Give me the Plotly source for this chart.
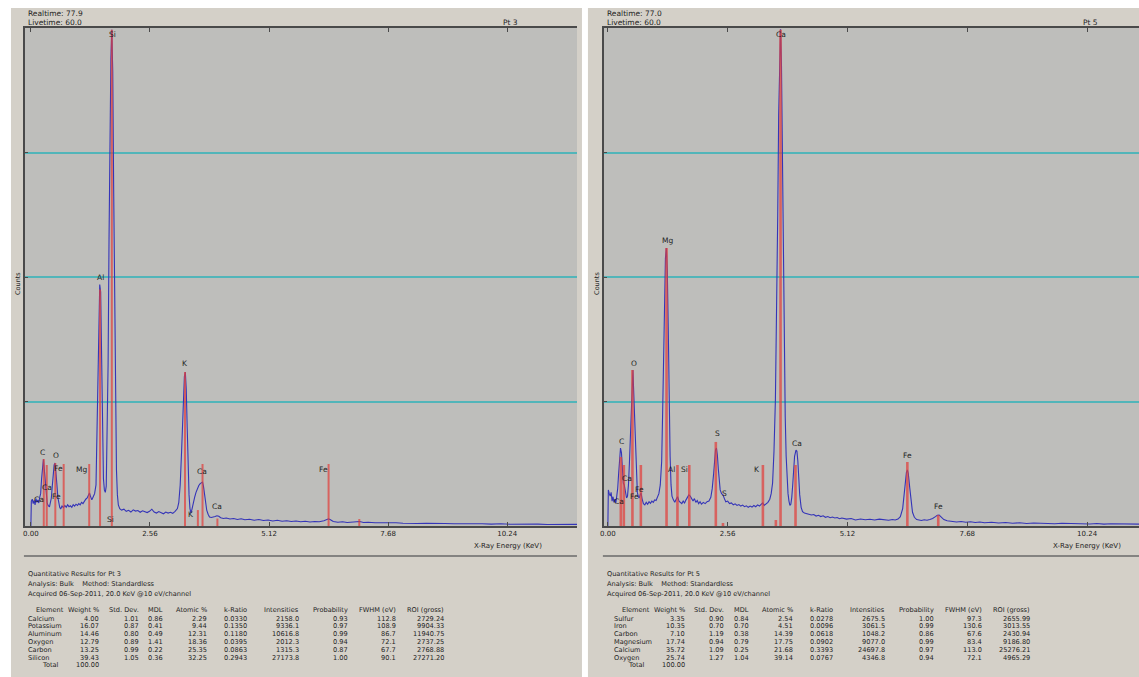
import plotly.graph_objects as go

W, H = 1139, 677

# ------------------------------------------------------------------ data
tick_kev = [0.0, 2.56, 5.12, 7.68, 10.24]
tick_labels = ["0.00", "2.56", "5.12", "7.68", "10.24"]

# Pt 3 spectrum (keV, counts)
pt3_energy = [0.00, 0.01, 0.03, 0.05, 0.07, 0.09, 0.11, 0.13, 0.15, 0.17, 0.19, 0.21, 0.23, 0.25, 0.27,
              0.29, 0.31, 0.33, 0.35, 0.37, 0.40, 0.42, 0.44, 0.46, 0.48, 0.50, 0.52, 0.54, 0.56, 0.58,
              0.60, 0.62, 0.64, 0.67, 0.70, 0.73, 0.76, 0.79, 0.82, 0.85, 0.88, 0.91, 0.94, 0.97, 1.00,
              1.03, 1.06, 1.09, 1.12, 1.15, 1.18, 1.21, 1.24, 1.26, 1.28, 1.31, 1.34, 1.37, 1.40, 1.42,
              1.44, 1.46, 1.48, 1.50, 1.52, 1.54, 1.56, 1.58, 1.60, 1.62, 1.64, 1.66, 1.68, 1.70, 1.72,
              1.74, 1.76, 1.78, 1.80, 1.82, 1.84, 1.86, 1.88, 1.91, 1.95, 2.00, 2.05, 2.10, 2.15, 2.20,
              2.25, 2.30, 2.35, 2.40, 2.45, 2.50, 2.55, 2.60, 2.65, 2.70, 2.75, 2.80, 2.85, 2.90, 2.95,
              3.00, 3.05, 3.10, 3.15, 3.18, 3.21, 3.24, 3.27, 3.30, 3.32, 3.34, 3.36, 3.38, 3.40, 3.42,
              3.44, 3.46, 3.49, 3.52, 3.55, 3.58, 3.61, 3.64, 3.67, 3.69, 3.71, 3.73, 3.75, 3.78, 3.81,
              3.84, 3.88, 3.92, 3.96, 4.00, 4.04, 4.08, 4.14, 4.20, 4.28, 4.36, 4.44, 4.52, 4.60, 4.70,
              4.80, 4.90, 5.00, 5.10, 5.20, 5.30, 5.40, 5.50, 5.60, 5.70, 5.80, 5.90, 6.00, 6.10, 6.20,
              6.30, 6.36, 6.40, 6.44, 6.50, 6.60, 6.70, 6.80, 6.90, 7.00, 7.07, 7.15, 7.25, 7.40, 7.55,
              7.70, 7.85, 8.00, 8.15, 8.30, 8.50, 8.70, 8.90, 9.10, 9.30, 9.50, 9.70, 9.90, 10.10, 10.30,
              10.50, 10.70, 10.90, 11.10, 11.30, 11.50, 11.74]
pt3_counts = [0, 200, 215, 180, 205, 170, 220, 190, 210, 185, 230, 260, 380, 510, 535,
              450, 345, 240, 185, 165, 153, 190, 225, 320, 425, 490, 506, 440, 330, 230,
              175, 150, 137, 160, 148, 165, 150, 170, 155, 162, 150, 172, 160, 175, 165,
              180, 170, 190, 180, 200, 215, 225, 255, 265, 240, 210, 235, 260, 330, 700,
              1300, 1650, 1940, 1880, 1350, 700, 380, 290, 270, 320, 700, 1300, 2300, 3200, 3750,
              3985, 3650, 2700, 1700, 900, 450, 250, 170, 140, 128, 135, 118, 126, 112, 130,
              120, 124, 110, 122, 115, 108, 118, 135, 112, 104, 116, 108, 98, 112, 104,
              110, 102, 118, 140, 190, 330, 600, 950, 1200, 1237, 1100, 800, 480, 250, 140,
              105, 130, 190, 230, 270, 300, 325, 340, 350, 353, 320, 250, 190, 128, 95,
              72, 68, 70, 76, 82, 78, 66, 60, 64, 56, 60, 52, 58, 50, 54,
              46, 52, 44, 48, 40, 46, 38, 42, 36, 40, 34, 38, 32, 36, 34,
              42, 52, 58, 50, 36, 30, 34, 28, 32, 30, 36, 28, 30, 26, 28,
              24, 26, 22, 24, 20, 22, 18, 20, 18, 20, 16, 18, 15, 18, 14,
              16, 14, 15, 12, 14, 12, 13]

# Pt 5 spectrum (keV, counts)
pt5_energy = [0.00, 0.01, 0.03, 0.05, 0.07, 0.09, 0.11, 0.13, 0.15, 0.17, 0.19, 0.21, 0.23, 0.25, 0.27,
              0.29, 0.31, 0.33, 0.35, 0.37, 0.40, 0.42, 0.44, 0.46, 0.48, 0.50, 0.52, 0.535, 0.55, 0.57,
              0.59, 0.61, 0.63, 0.65, 0.67, 0.69, 0.71, 0.73, 0.76, 0.79, 0.82, 0.85, 0.88, 0.91, 0.94,
              0.97, 1.00, 1.03, 1.06, 1.09, 1.12, 1.15, 1.17, 1.19, 1.21, 1.23, 1.25, 1.27, 1.29, 1.31,
              1.33, 1.35, 1.37, 1.40, 1.43, 1.46, 1.49, 1.52, 1.55, 1.58, 1.61, 1.64, 1.67, 1.70, 1.73,
              1.76, 1.79, 1.82, 1.85, 1.88, 1.91, 1.94, 1.97, 2.00, 2.04, 2.08, 2.12, 2.16, 2.20, 2.23,
              2.26, 2.28, 2.30, 2.32, 2.34, 2.36, 2.38, 2.40, 2.43, 2.46, 2.49, 2.52, 2.56, 2.60, 2.64,
              2.68, 2.72, 2.76, 2.80, 2.84, 2.88, 2.92, 2.96, 3.00, 3.04, 3.08, 3.12, 3.16, 3.20, 3.24,
              3.28, 3.31, 3.34, 3.38, 3.42, 3.46, 3.49, 3.52, 3.55, 3.58, 3.61, 3.63, 3.65, 3.67, 3.69,
              3.71, 3.73, 3.75, 3.77, 3.79, 3.81, 3.83, 3.85, 3.87, 3.89, 3.91, 3.93, 3.95, 3.97, 3.99,
              4.02, 4.04, 4.06, 4.08, 4.10, 4.13, 4.16, 4.20, 4.25, 4.30, 4.35, 4.40, 4.45, 4.50, 4.55,
              4.60, 4.65, 4.70, 4.75, 4.80, 4.85, 4.90, 4.95, 5.00, 5.10, 5.20, 5.29, 5.40, 5.50, 5.60,
              5.70, 5.80, 5.90, 6.00, 6.08, 6.14, 6.20, 6.25, 6.30, 6.33, 6.36, 6.38, 6.40, 6.42, 6.45,
              6.48, 6.51, 6.55, 6.60, 6.65, 6.70, 6.76, 6.82, 6.88, 6.94, 7.00, 7.04, 7.08, 7.12, 7.18,
              7.25, 7.35, 7.45, 7.55, 7.65, 7.75, 7.85, 7.95, 8.05, 8.20, 8.35, 8.50, 8.65, 8.80, 8.95,
              9.10, 9.25, 9.40, 9.55, 9.70, 9.85, 10.00, 10.15, 10.30, 10.45, 10.60, 10.75, 10.90, 11.05, 11.20,
              11.35]
pt5_counts = [0, 290, 260, 240, 270, 200, 235, 190, 215, 185, 240, 300, 420, 560, 626,
              590, 450, 345, 330, 270, 225, 240, 330, 500, 750, 1012, 1200, 1253, 1100, 875,
              560, 340, 270, 235, 225, 250, 265, 220, 180, 169, 190, 175, 195, 182, 200,
              190, 210, 205, 230, 260, 330, 520, 900, 1400, 1900, 2150, 2232, 2050, 1600, 1000,
              560, 330, 240, 210, 190, 215, 235, 200, 190, 180, 200, 185, 210, 230, 250,
              240, 215, 200, 220, 190, 205, 180, 195, 175, 190, 180, 195, 200, 230, 300,
              420, 540, 610, 626, 570, 460, 350, 290, 260, 250, 220, 195, 200, 180, 185,
              170, 178, 165, 172, 160, 168, 155, 162, 150, 160, 152, 165, 155, 170, 160,
              175, 185, 165, 175, 190, 215, 260, 345, 600, 1012, 1700, 2500, 3300, 3850, 3990,
              3700, 3000, 2100, 1300, 875, 560, 380, 260, 200, 165, 175, 230, 330, 450, 560,
              610, 600, 520, 380, 250, 150, 115, 104, 98, 95, 88, 92, 80, 86, 76,
              82, 70, 76, 66, 72, 64, 68, 58, 64, 55, 60, 48, 56, 50, 54,
              48, 55, 50, 46, 52, 48, 56, 75, 140, 250, 370, 430, 450, 420, 310,
              190, 110, 70, 52, 48, 44, 50, 46, 52, 60, 75, 86, 88, 72, 52,
              42, 38, 32, 36, 30, 34, 28, 32, 26, 30, 24, 28, 22, 26, 20,
              24, 20, 22, 18, 22, 20, 18, 21, 16, 20, 15, 18, 16, 14, 17,
              15]

# KLM marker lines (keV, height in counts)
pt3_line_kev = [0.277, 0.341, 0.525, 0.705, 1.254, 1.487, 1.740, 3.313, 3.590, 3.690, 4.010, 6.400, 7.060]
pt3_line_cnt = [538, 490, 506, 498, 498, 1900, 3985, 1237, 128, 498, 60, 498, 56]
pt5_line_kev = [0.277, 0.341, 0.525, 0.705, 1.254, 1.487, 1.740, 2.307, 2.460, 3.313, 3.590, 3.690, 4.010, 6.400, 7.060]
pt5_line_cnt = [554, 490, 1253, 490, 2232, 490, 490, 675, 24, 490, 48, 3985, 490, 514, 88]

# peak labels (text, keV, counts)
pt3_lbl_text = ["Si", "Al", "K", "C", "O", "Fe", "Mg", "Ca", "Ca", "Fe", "Si", "Ca", "K", "Ca", "Fe"]
pt3_lbl_kev = [1.76, 1.49, 3.32, 0.26, 0.54, 0.60, 1.09, 0.34, 0.17, 0.56, 1.71, 3.68, 3.45, 4.01, 6.28]
pt3_lbl_cnt = [3950, 2000, 1309, 594, 570, 458, 450, 313, 209, 233, 56, 434, 96, 153, 450]
pt5_lbl_text = ["Ca", "Mg", "O", "C", "Ca", "Fe", "Fe", "Ca", "Al", "Si", "S", "S", "K", "Ca", "Fe", "Fe"]
pt5_lbl_kev = [3.70, 1.28, 0.55, 0.30, 0.40, 0.68, 0.57, 0.23, 1.36, 1.64, 2.34, 2.49, 3.19, 4.05, 6.41, 7.07]
pt5_lbl_cnt = [3951, 2297, 1309, 675, 385, 297, 233, 193, 450, 450, 739, 265, 450, 666, 570, 153]

# quantitative tables
table_headers = ["Element", "Weight %", "Std. Dev.", "MDL", "Atomic %", "k-Ratio",
                 "Intensities", "Probability", "FWHM (eV)", "ROI (gross)"]

pt3_element = ["Calcium", "Potassium", "Aluminum", "Oxygen", "Carbon", "Silicon"]
pt3_weight = ["4.00", "16.07", "14.46", "12.79", "13.25", "39.43"]
pt3_std = ["1.01", "0.87", "0.80", "0.89", "0.99", "1.05"]
pt3_mdl = ["0.86", "0.41", "0.49", "1.41", "0.22", "0.36"]
pt3_atomic = ["2.29", "9.44", "12.31", "18.36", "25.35", "32.25"]
pt3_kratio = ["0.0330", "0.1350", "0.1180", "0.0395", "0.0863", "0.2943"]
pt3_intens = ["2158.0", "9336.1", "10616.8", "2012.3", "1315.3", "27173.8"]
pt3_prob = ["0.93", "0.97", "0.99", "0.94", "0.87", "1.00"]
pt3_fwhm = ["112.8", "108.9", "86.7", "72.1", "67.7", "90.1"]
pt3_roi = ["2729.24", "9904.33", "11940.75", "2737.25", "2768.88", "27271.20"]

pt5_element = ["Sulfur", "Iron", "Carbon", "Magnesium", "Calcium", "Oxygen"]
pt5_weight = ["3.35", "10.35", "7.10", "17.74", "35.72", "25.74"]
pt5_std = ["0.90", "0.70", "1.19", "0.94", "1.09", "1.27"]
pt5_mdl = ["0.84", "0.70", "0.38", "0.79", "0.25", "1.04"]
pt5_atomic = ["2.54", "4.51", "14.39", "17.75", "21.68", "39.14"]
pt5_kratio = ["0.0278", "0.0096", "0.0618", "0.0902", "0.3393", "0.0767"]
pt5_intens = ["2675.5", "3061.5", "1048.2", "9077.0", "24697.8", "4346.8"]
pt5_prob = ["1.00", "0.99", "0.86", "0.99", "0.97", "0.94"]
pt5_fwhm = ["97.3", "130.6", "67.6", "83.4", "113.0", "72.1"]
pt5_roi = ["2655.99", "3013.55", "2430.94", "9186.80", "25276.21", "4965.29"]

# ------------------------------------------------------------------ style
PANEL = "#d4d0c8"
PLOTBG = "#bebebb"
GRID = "#52b5b9"
AXIS = "#4a4a4a"
BLUE = "#3434b8"
RED = "#e2403c"
TXT = "#1e1e1e"
FONT = "DejaVu Sans"
TFS = 6.6  # table font size


def px(x):
    return x / W


def py(y):
    return 1 - y / H


panels = [
    dict(name="Pt 3", x0=7, x1=580, plot_x0=21, plot_x1=575, rng=[-0.128, 11.74], off=0,
         tab_off=0, hdr_x=22, rt="Realtime: 77.9", lt="Livetime: 60.0", pt_x=508,
         energy=pt3_energy, counts=pt3_counts, lk=pt3_line_kev, lc=pt3_line_cnt, lw=2.0,
         lt_text=pt3_lbl_text, lt_kev=pt3_lbl_kev, lt_cnt=pt3_lbl_cnt,
         cols=[pt3_element, pt3_weight, pt3_std, pt3_mdl, pt3_atomic, pt3_kratio,
               pt3_intens, pt3_prob, pt3_fwhm, pt3_roi],
         title="Quantitative Results for Pt 3"),
    dict(name="Pt 5", x0=586, x1=1139, plot_x0=602, plot_x1=1139, rng=[-0.085, 11.35], off=581,
         tab_off=588, hdr_x=603, rt="Realtime: 77.0", lt="Livetime: 60.0", pt_x=1090,
         energy=pt5_energy, counts=pt5_counts, lk=pt5_line_kev, lc=pt5_line_cnt, lw=2.6,
         lt_text=pt5_lbl_text, lt_kev=pt5_lbl_kev, lt_cnt=pt5_lbl_cnt,
         cols=[pt5_element, pt5_weight, pt5_std, pt5_mdl, pt5_atomic, pt5_kratio,
               pt5_intens, pt5_prob, pt5_fwhm, pt5_roi],
         title="Quantitative Results for Pt 5"),
]

col_right = [62, 97, 137, 162, 206, 246, 298, 347, 395, 444]

PLOT_TOP, PLOT_BOT = 28, 526

fig = go.Figure()
shapes = []
annotations = []

for i, p in enumerate(panels):
    sfx = "" if i == 0 else str(i + 1)
    xa, ya = "x" + sfx, "y" + sfx

    # panel background
    shapes.append(dict(type="rect", xref="paper", yref="paper", x0=px(p["x0"]), x1=px(p["x1"]),
                       y0=0, y1=py(8), fillcolor=PANEL, line=dict(width=0), layer="below"))
    # plot area background
    shapes.append(dict(type="rect", xref="paper", yref="paper", x0=px(p["plot_x0"]),
                       x1=px(p["plot_x1"]), y0=py(PLOT_BOT), y1=py(PLOT_TOP),
                       fillcolor=PLOTBG, line=dict(width=0), layer="below"))
    # separator line above table
    shapes.append(dict(type="line", xref="paper", yref="paper", x0=px(p["plot_x0"] - 1),
                       x1=px(p["plot_x1"]), y0=py(556), y1=py(556),
                       line=dict(color="#6a6a6a", width=1.5)))

    # spectrum
    fig.add_trace(go.Scatter(x=p["energy"], y=p["counts"], mode="lines",
                             line=dict(color=BLUE, width=1.1), xaxis=xa, yaxis=ya,
                             showlegend=False, hoverinfo="skip"))
    # KLM marker lines
    mx, my = [], []
    for e, c in zip(p["lk"], p["lc"]):
        mx += [e, e, None]
        my += [0, c, None]
    fig.add_trace(go.Scatter(x=mx, y=my, mode="lines", line=dict(color=RED, width=p["lw"]),
                             opacity=0.72, xaxis=xa, yaxis=ya, showlegend=False, hoverinfo="skip"))

    # peak labels
    for t, e, c in zip(p["lt_text"], p["lt_kev"], p["lt_cnt"]):
        annotations.append(dict(text=t, x=e, y=c, xref=xa, yref=ya, showarrow=False,
                                font=dict(family=FONT, size=7.5, color=TXT),
                                xanchor="center", yanchor="middle"))

    dom_x = [px(p["plot_x0"]), px(p["plot_x1"])]
    dom_y = [py(PLOT_BOT), py(PLOT_TOP)]
    xaxis = dict(domain=dom_x, range=p["rng"], anchor=ya, tickvals=tick_kev, ticktext=tick_labels,
                 ticks="inside", ticklen=4, tickcolor=AXIS, showline=True, linecolor=AXIS,
                 linewidth=1.5, mirror="ticks", showgrid=False, zeroline=False,
                 tickfont=dict(family=FONT, size=7, color=TXT), fixedrange=True)
    yaxis = dict(domain=dom_y, range=[0, 4000], anchor=xa, tickvals=[1000, 2000, 3000],
                 showticklabels=False, ticks="inside", ticklen=3, tickcolor=AXIS,
                 showline=True, linecolor=AXIS, linewidth=1.5, showgrid=True,
                 gridcolor=GRID, gridwidth=2, zeroline=False, fixedrange=True)
    fig.update_layout(**{"xaxis" + sfx: xaxis, "yaxis" + sfx: yaxis})

    # header texts
    for txt, yy in [(p["rt"], 13), (p["lt"], 22)]:
        annotations.append(dict(text=txt, x=px(p["hdr_x"]), y=py(yy), xref="paper", yref="paper",
                                showarrow=False, xanchor="left", yanchor="middle",
                                font=dict(family=FONT, size=7.5, color=TXT)))
    annotations.append(dict(text=p["name"], x=px(p["pt_x"]), y=py(22), xref="paper", yref="paper",
                            showarrow=False, xanchor="center", yanchor="middle",
                            font=dict(family=FONT, size=7.5, color=TXT)))
    annotations.append(dict(text="Counts", x=px(p["plot_x0"] - 7), y=py(283), xref="paper",
                            yref="paper", showarrow=False, textangle=-90, xanchor="center",
                            yanchor="middle", font=dict(family=FONT, size=6.5, color=TXT)))
    annotations.append(dict(text="X-Ray Energy (KeV)", x=px(p["off"] + 506), y=py(546),
                            xref="paper", yref="paper", showarrow=False, xanchor="center",
                            yanchor="middle", font=dict(family=FONT, size=7, color=TXT)))

    # quantitative results text
    for txt, yy in [(p["title"], 574), ("Analysis: Bulk    Method: Standardless", 584),
                    ("Acquired 06-Sep-2011, 20.0 KeV @10 eV/channel", 594)]:
        annotations.append(dict(text=txt.replace("    ", "&nbsp;&nbsp;&nbsp;&nbsp;"),
                                x=px(p["hdr_x"]), y=py(yy), xref="paper", yref="paper",
                                showarrow=False, xanchor="left", yanchor="middle",
                                font=dict(family=FONT, size=TFS, color=TXT)))
    # table header
    for h, cr in zip(table_headers, col_right):
        annotations.append(dict(text=h, x=px(cr + p["tab_off"]), y=py(610), xref="paper",
                                yref="paper", showarrow=False, xanchor="right", yanchor="middle",
                                font=dict(family=FONT, size=TFS, color=TXT)))
    row_y = [618.5, 626.3, 634.1, 641.9, 649.7, 657.5]
    for r, yy in enumerate(row_y):
        for c, col in enumerate(p["cols"]):
            if c == 0:
                annotations.append(dict(text=col[r], x=px(22 + p["tab_off"]), y=py(yy),
                                        xref="paper", yref="paper", showarrow=False,
                                        xanchor="left", yanchor="middle",
                                        font=dict(family=FONT, size=TFS, color=TXT)))
            else:
                annotations.append(dict(text=col[r], x=px(col_right[c] + p["tab_off"]), y=py(yy),
                                        xref="paper", yref="paper", showarrow=False,
                                        xanchor="right", yanchor="middle",
                                        font=dict(family=FONT, size=TFS, color=TXT)))
    annotations.append(dict(text="Total", x=px(57 + p["tab_off"]), y=py(665.3), xref="paper",
                            yref="paper", showarrow=False, xanchor="right", yanchor="middle",
                            font=dict(family=FONT, size=TFS, color=TXT)))
    annotations.append(dict(text="100.00", x=px(97 + p["tab_off"]), y=py(665.3), xref="paper",
                            yref="paper", showarrow=False, xanchor="right", yanchor="middle",
                            font=dict(family=FONT, size=TFS, color=TXT)))

fig.update_layout(width=W, height=H, margin=dict(l=0, r=0, t=0, b=0),
                  paper_bgcolor="white", plot_bgcolor=PLOTBG, showlegend=False,
                  shapes=shapes, annotations=annotations,
                  font=dict(family=FONT, size=7, color=TXT))

fig.write_html("out.html")
